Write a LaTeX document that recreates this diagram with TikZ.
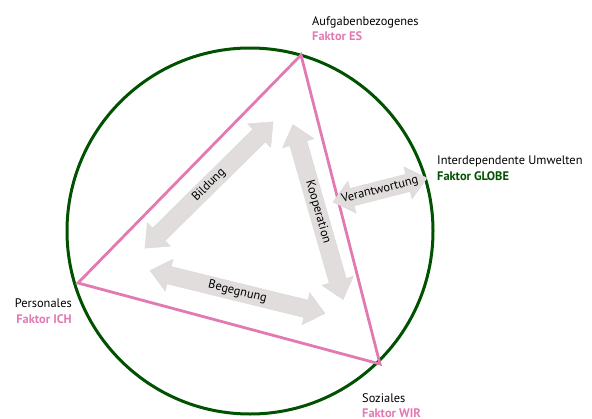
\documentclass[tikz,border=0pt]{standalone}
\usepackage{fontspec}
\setmainfont{PT Sans}
\usetikzlibrary{shapes.arrows}
\definecolor{FaktorPink}{RGB}{226,122,178}
\definecolor{GlobeGreen}{RGB}{0,82,0}
\definecolor{ArrowGray}{RGB}{226,221,221}
\tikzset{
  dblarrow/.style={double arrow,draw=black!15,fill=ArrowGray,inner xsep=2pt,inner ysep=3pt,
    minimum width=31,double arrow head extend=7.5pt,double arrow tip angle=80,
    font=\fontsize{12.4}{14}\selectfont},
  lbl/.style={inner sep=0pt,align=left,font=\fontsize{12.4}{15.5}\selectfont},
}

\begin{document}
\begin{tikzpicture}[x=1pt,y=-1pt]
  \useasboundingbox (0,0) rectangle (592,418);
  \coordinate (m) at (250,231);
  \coordinate (es) at (301,55);
  \coordinate (ich) at (78,283);
  \coordinate (wir) at (380,364);
  \draw[GlobeGreen,line width=3pt] (m) circle[radius=183];
  \draw[FaktorPink,line width=2.8pt] (es)--(wir)--(ich)--cycle;
  % arrows inside
  \node[dblarrow,minimum height=180,rotate=44.6] (bildung) at (209,185) {Bildung};
  \node[dblarrow,minimum height=182,rotate=-74] (kooperation) at (318,212) {Kooperation};
  \node[dblarrow,minimum height=180,rotate=-13.8] (begegnung) at (237.5,292) {Begegnung};
  \node[dblarrow,minimum height=97,minimum width=33,inner xsep=-14pt,rotate=14.3] (verantwortung) at (380,190) {Verantwortung};
  % labels
  \node[lbl,anchor=north west] (esl) at (312,16) {Aufgabenbezogenes\\\textbf{\color{FaktorPink}Faktor ES}};
  \node[lbl,anchor=north west] (globel) at (437,156) {Interdependente Umwelten\\\textbf{\color{GlobeGreen}Faktor GLOBE}};
  \node[lbl,anchor=north east,align=right] (ichl) at (72,299) {Personales\\\textbf{\color{FaktorPink}Faktor ICH}};
  \node[lbl,anchor=north west] (wirl) at (362,393) {Soziales\\\textbf{\color{FaktorPink}Faktor WIR}};
\end{tikzpicture}
\end{document}
